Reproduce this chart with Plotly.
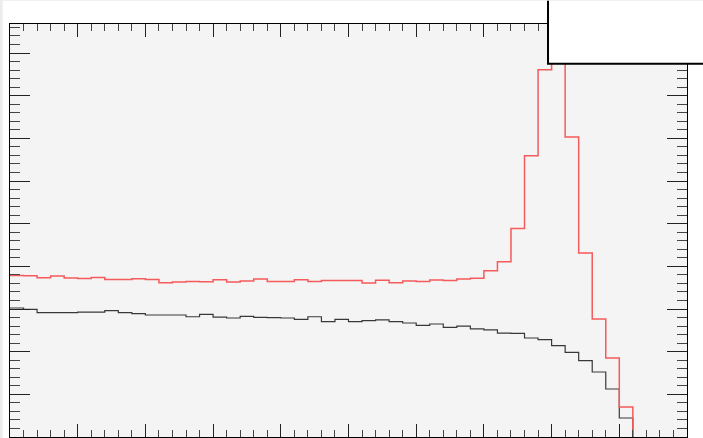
import plotly.graph_objects as go

# 50 bins over [0, 10]
bin_edges = [i * 0.2 for i in range(51)]

red_values = [3.787, 3.780, 3.733, 3.773, 3.726, 3.717, 3.740, 3.693, 3.693, 3.710,
              3.693, 3.616, 3.633, 3.647, 3.640, 3.686, 3.633, 3.656, 3.705, 3.647,
              3.647, 3.686, 3.647, 3.670, 3.670, 3.670, 3.609, 3.675, 3.616, 3.656,
              3.647, 3.679, 3.670, 3.703, 3.722, 3.897, 4.108, 4.889, 6.592, 8.608,
              9.220, 7.031, 4.312, 2.765, 1.851, 0.703, 0.0, 0.0, 0.0, 0.0]

black_values = [3.023, 2.990, 2.913, 2.913, 2.913, 2.929, 2.929, 2.960, 2.913, 2.890,
                2.859, 2.859, 2.859, 2.819, 2.873, 2.812, 2.789, 2.826, 2.805, 2.800,
                2.789, 2.756, 2.819, 2.702, 2.756, 2.702, 2.726, 2.744, 2.702, 2.672,
                2.615, 2.648, 2.569, 2.601, 2.533, 2.510, 2.433, 2.428, 2.320, 2.280,
                2.140, 1.983, 1.788, 1.523, 1.125, 0.445, 0.0, 0.0, 0.0, 0.0]

x_range = [0, 10]
y_range = [0, 9.68]


def step_xy(values):
    last = max(i for i, v in enumerate(values) if v > 0)
    xs = list(bin_edges[:last + 2])
    ys = list(values[:last + 1]) + [0.0]
    return xs, ys


fig = go.Figure()
xb, yb = step_xy(black_values)
fig.add_trace(go.Scatter(x=xb, y=yb, mode="lines", line_shape="hv",
                         line=dict(color="#383838", width=1.2), showlegend=False,
                         hoverinfo="skip"))
xr, yr = step_xy(red_values)
fig.add_trace(go.Scatter(x=xr, y=yr, mode="lines", line_shape="hv",
                         line=dict(color="#f65a5a", width=1.5), showlegend=False,
                         hoverinfo="skip"))

axis_common = dict(showgrid=False, zeroline=False, showticklabels=False,
                   showline=True, linecolor="black", linewidth=1,
                   mirror="allticks", ticks="inside", tickcolor="#222222",
                   tickwidth=1)

fig.update_xaxes(range=x_range, dtick=1, tick0=0, ticklen=13,
                 minor=dict(dtick=0.2, tick0=0, ticklen=7, ticks="inside",
                            tickcolor="#444444", tickwidth=1),
                 **axis_common)
fig.update_yaxes(range=y_range, dtick=1, tick0=0, ticklen=20,
                 minor=dict(dtick=0.2, tick0=0, ticklen=10, ticks="inside",
                            tickcolor="#444444", tickwidth=1),
                 **axis_common)

# clipped stats box in the top-right corner (top and right edges off-canvas)
fig.add_shape(type="rect", xref="paper", yref="paper",
              x0=0.7947, x1=1.2, y0=0.904, y1=1.2,
              fillcolor="white", line=dict(color="black", width=2),
              layer="above")
# faint page border on the top and left edges
fig.add_shape(type="rect", xref="paper", yref="paper",
              x0=-0.02, x1=1.1, y0=1.0565, y1=1.1,
              fillcolor="#ececec", line=dict(width=0), layer="above")
fig.add_shape(type="rect", xref="paper", yref="paper",
              x0=-0.02, x1=-0.0108, y0=-0.01, y1=1.1,
              fillcolor="#ececec", line=dict(width=0), layer="above")

fig.update_layout(width=703, height=438,
                  margin=dict(l=10, r=16, t=24, b=1, pad=0),
                  paper_bgcolor="white", plot_bgcolor="#f4f4f4")

fig.write_html("out.html")
